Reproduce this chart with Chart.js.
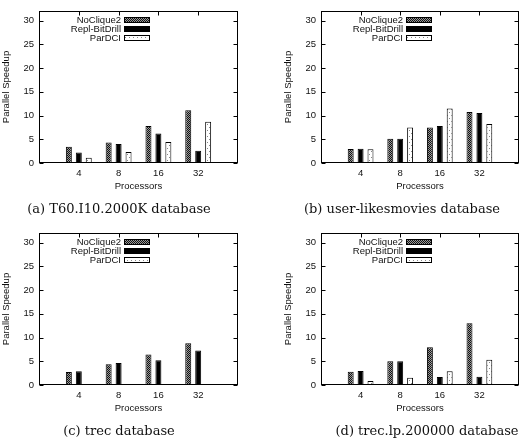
<!DOCTYPE html>
<html>
<head>
<meta charset="utf-8">
<script src="https://cdn.jsdelivr.net/npm/chart.js@4.4.1/dist/chart.umd.min.js"></script>
<style>
  body { margin: 0; background: #fff; }
  #wrap { position: relative; width: 524px; height: 440px; }
  .panel { position: absolute; width: 262px; height: 220px; }
  .cap { position: absolute; width: 300px; margin-left: -150px; text-align: center;
         font: 13px "DejaVu Serif", serif; color: #111; line-height: 16px; white-space: nowrap; }
</style>
</head>
<body>
<div id="wrap">
  <div class="panel" style="left:0;top:0"><canvas id="chartA" width="262" height="220"></canvas></div>
  <div class="panel" style="left:262px;top:0"><canvas id="chartB" width="262" height="220"></canvas></div>
  <div class="panel" style="left:0;top:220px"><canvas id="chartC" width="262" height="220"></canvas></div>
  <div class="panel" style="left:262px;top:220px"><canvas id="chartD" width="262" height="220"></canvas></div>
  <div class="cap" style="left:119px;top:201px">(a) T60.I10.2000K database</div>
  <div class="cap" style="left:402px;top:201px">(b) user-likesmovies database</div>
  <div class="cap" style="left:119px;top:423px">(c) trec database</div>
  <div class="cap" style="left:427px;top:423px">(d) trec.lp.200000 database</div>
</div>
<script>
// processors on the x axis
const processors = ['4', '8', '16', '32'];
const seriesNames = ['NoClique2', 'Repl-BitDrill', 'ParDCI'];
const yTicks = [0, 5, 10, 15, 20, 25, 30];

// (a) T60.I10.2000K
const t60NoClique2 = [3.4, 4.3, 7.8, 11.1];
const t60ReplBitDrill = [2.2, 4.0, 6.2, 2.6];
const t60ParDCI = [1.1, 2.3, 4.4, 8.7];

// (b) user-likesmovies
const movNoClique2 = [2.95, 5.1, 7.5, 10.75];
const movReplBitDrill = [3.0, 5.1, 7.8, 10.55];
const movParDCI = [2.9, 7.45, 11.45, 8.2];

// (c) trec (no ParDCI results)
const trecNoClique2 = [2.75, 4.35, 6.4, 8.8];
const trecReplBitDrill = [2.9, 4.65, 5.2, 7.25];
const trecParDCI = [null, null, null, null];

// (d) trec.lp.200000
const lpNoClique2 = [2.8, 5.0, 7.95, 13.0];
const lpReplBitDrill = [2.95, 5.0, 1.7, 1.75];
const lpParDCI = [0.85, 1.55, 2.9, 5.3];

Chart.defaults.font.family = '"Liberation Sans", Arial, sans-serif';
Chart.defaults.color = '#111';

// fill patterns like gnuplot's
function checkerPattern() {
  const c = document.createElement('canvas');
  c.width = 2; c.height = 2;
  const g = c.getContext('2d');
  g.fillStyle = '#999';
  g.fillRect(0, 0, 2, 2);
  g.fillStyle = '#111';
  g.fillRect(0, 0, 1, 1);
  g.fillRect(1, 1, 1, 1);
  return g.createPattern(c, 'repeat');
}
function dotPattern() {
  const c = document.createElement('canvas');
  c.width = 4; c.height = 6;
  const g = c.getContext('2d');
  g.fillStyle = '#fff';
  g.fillRect(0, 0, 4, 6);
  g.fillStyle = '#888';
  g.fillRect(1, 1, 1, 1);
  g.fillRect(3, 4, 1, 1);
  return g.createPattern(c, 'repeat');
}
const fills = [checkerPattern(), '#000', dotPattern()];

const txtFont = { size: 9.5 };

// inside tick marks + mirrored axes, drawn under the bars
const ticksPlugin = {
  id: 'gnuTicks',
  beforeDatasetsDraw(chart) {
    const { ctx, chartArea: a, scales } = chart;
    const L = Math.round(a.left) + 0.5, R = Math.round(a.right) - 0.5;
    const T = Math.round(a.top) + 0.5, B = Math.round(a.bottom) - 0.5;
    ctx.save();
    ctx.strokeStyle = '#000';
    ctx.lineWidth = 1;
    ctx.beginPath();
    yTicks.forEach(v => {
      const py = Math.round(scales.y.getPixelForValue(v)) + 0.5;
      ctx.moveTo(L, py); ctx.lineTo(L + 4, py);
      ctx.moveTo(R, py); ctx.lineTo(R - 4, py);
    });
    processors.forEach((p, i) => {
      const px = Math.round(scales.x.getPixelForValue(i + 1)) + 0.5;
      ctx.moveTo(px, T); ctx.lineTo(px, T + 4);
      ctx.moveTo(px, B); ctx.lineTo(px, B - 4);
    });
    ctx.stroke();
    ctx.restore();
  },
  afterDatasetsDraw(chart) {
    const { ctx, chartArea: a } = chart;
    ctx.save();
    ctx.strokeStyle = '#000';
    ctx.lineWidth = 1;
    ctx.strokeRect(Math.round(a.left) + 0.5, Math.round(a.top) + 0.5,
                   Math.round(a.right) - Math.round(a.left) - 1, Math.round(a.bottom) - Math.round(a.top) - 1);
    ctx.restore();
  }
};

// key in the upper part of the plot: text, then sample box
const keyPlugin = {
  id: 'gnuKey',
  afterDraw(chart) {
    const { ctx, chartArea: a } = chart;
    ctx.save();
    ctx.font = '9.5px "Liberation Sans", Arial, sans-serif';
    ctx.textAlign = 'right';
    ctx.textBaseline = 'middle';
    chart.data.datasets.forEach((ds, i) => {
      const y = Math.round(a.top) + 9 + 9 * i;
      ctx.fillStyle = '#111';
      ctx.fillText(ds.label, a.left + 82, y);
      ctx.fillStyle = ds.backgroundColor;
      ctx.fillRect(Math.round(a.left) + 85, y - 2.5, 26, 5);
      ctx.strokeStyle = '#000';
      ctx.strokeRect(Math.round(a.left) + 85.5, y - 2.5, 25, 5);
    });
    ctx.restore();
  }
};

function makeChart(id, values, yWidth, yTitlePad, pad) {
  const labels = ['', ...processors, ''];
  new Chart(document.getElementById(id), {
    type: 'bar',
    data: {
      labels: labels,
      datasets: values.map((vals, i) => ({
        label: seriesNames[i],
        data: [null, ...vals, null],
        backgroundColor: fills[i],
        borderColor: '#000',
        borderWidth: 1,
        barPercentage: 0.6,
        categoryPercentage: 0.75,
      })),
    },
    options: {
      responsive: false,
      animation: false,
      layout: { padding: pad },
      scales: {
        x: {
          type: 'category',
          offset: false,
          grid: { display: false, drawTicks: false },
          border: { display: false },
          ticks: { font: txtFont, padding: 5, autoSkip: false, maxRotation: 0 },
          title: { display: true, text: 'Processors', font: txtFont, padding: { top: 0, bottom: 4 } },
          afterFit(s) { s.height = 33; },
        },
        y: {
          min: 0,
          max: 32,
          grid: { display: false, drawTicks: false },
          border: { display: false },
          ticks: { stepSize: 5, includeBounds: false, font: txtFont, padding: 5 },
          title: { display: true, text: 'Parallel Speedup', font: txtFont, padding: { top: yTitlePad, bottom: 0 } },
          afterFit(s) { s.width = yWidth; },
        },
      },
      plugins: {
        legend: { display: false },
        tooltip: { enabled: false },
      },
    },
    plugins: [ticksPlugin, keyPlugin],
  });
}

makeChart('chartA', [t60NoClique2, t60ReplBitDrill, t60ParDCI], 39, 1, { left: 0, right: 24, top: 11, bottom: 24 });
makeChart('chartB', [movNoClique2, movReplBitDrill, movParDCI], 59, 21, { left: 0, right: 5, top: 11, bottom: 24 });
makeChart('chartC', [trecNoClique2, trecReplBitDrill, trecParDCI], 39, 1, { left: 0, right: 24, top: 13, bottom: 22 });
makeChart('chartD', [lpNoClique2, lpReplBitDrill, lpParDCI], 59, 21, { left: 0, right: 5, top: 13, bottom: 22 });
</script>
</body>
</html>
